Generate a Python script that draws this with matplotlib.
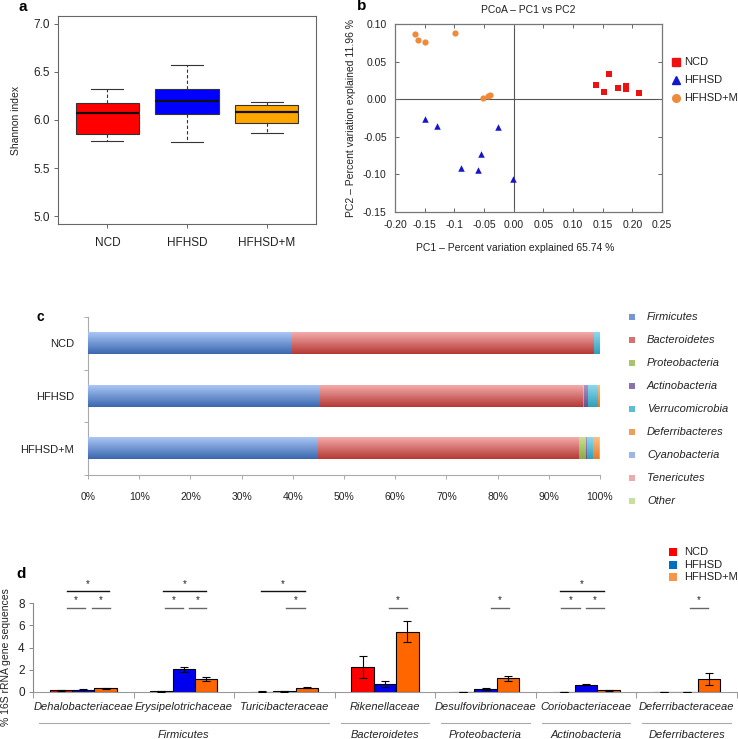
import matplotlib
matplotlib.use('Agg')
import matplotlib.pyplot as plt
import numpy as np
from matplotlib.patches import Rectangle
from matplotlib.lines import Line2D
import matplotlib.colors as mcolors

plt.rcParams['font.family'] = ['Liberation Sans', 'DejaVu Sans']

# ---------------- data ----------------
groups = ['NCD', 'HFHSD', 'HFHSD+M']

# panel a: Shannon index boxplots
shannon_whislo = [5.78, 5.77, 5.86]
shannon_q1 = [5.85, 6.06, 5.97]
shannon_med = [6.07, 6.20, 6.08]
shannon_q3 = [6.18, 6.32, 6.16]
shannon_whishi = [6.32, 6.57, 6.19]
box_colors = ['#ff0000', '#0000ff', '#ffa500']
a_yticks = [5.0, 5.5, 6.0, 6.5, 7.0]

# panel b: PCoA
ncd_pc1 = [0.138, 0.160, 0.153, 0.176, 0.189, 0.190, 0.212]
ncd_pc2 = [0.0187, 0.0333, 0.0093, 0.0151, 0.0173, 0.0142, 0.0080]
hfhsd_pc1 = [-0.150, -0.130, -0.027, -0.055, -0.089, -0.060, -0.001]
hfhsd_pc2 = [-0.0267, -0.0360, -0.0370, -0.0729, -0.0920, -0.0940, -0.1060]
hfhsdm_pc1 = [-0.167, -0.161, -0.150, -0.0997, -0.0513, -0.0439, -0.040]
hfhsdm_pc2 = [0.0862, 0.0787, 0.0764, 0.0876, 0.0013, 0.0044, 0.0058]
b_xticks = [-0.20, -0.15, -0.10, -0.05, 0.0, 0.05, 0.10, 0.15, 0.20, 0.25]
b_xticklabels = ['-0.20', '-0.15', '-0.1', '-0.05', '0.00', '0.05', '0.10', '0.15', '0.20', '0.25']
b_yticks = [-0.15, -0.10, -0.05, 0.0, 0.05, 0.10]
b_yticklabels = ['-0.15', '-0.10', '-0.05', '0.00', '0.05', '0.10']

# panel c: phylum composition (%)
phyla = ['Firmicutes', 'Bacteroidetes', 'Proteobacteria', 'Actinobacteria',
         'Verrucomicrobia', 'Deferribacteres', 'Cyanobacteria', 'Tenericutes', 'Other']
ncd_pct = [39.8, 59.1, 0.0, 0.0, 1.1, 0.0, 0.0, 0.0, 0.0]
hfhsd_pct = [45.3, 51.3, 0.3, 0.7, 2.1, 0.3, 0.0, 0.0, 0.0]
hfhsdm_pct = [44.9, 51.0, 1.4, 0.1, 1.3, 1.1, 0.1, 0.1, 0.0]
phylum_light = ['#abc6f6', '#f4abab', '#c8e290', '#ab95cb', '#8cd9ef', '#fbc089', '#bcd0f3', '#f7c5c5', '#dcefba']
phylum_dark = ['#3a67af', '#b43935', '#89a946', '#694e8c', '#2f9fbb', '#e57b25', '#7b9ed5', '#e19292', '#b1ce84']
c_xticks = [0, 10, 20, 30, 40, 50, 60, 70, 80, 90, 100]

# panel d: family abundances
families = ['Dehalobacteriaceae', 'Erysipelotrichaceae', 'Turicibacteraceae', 'Rikenellaceae',
            'Desulfovibrionaceae', 'Coriobacteriaceae', 'Deferribacteraceae']
fam_ncd = [0.14, 0.05, 0.04, 2.28, 0.02, 0.03, 0.01]
fam_ncd_err = [0.02, 0.02, 0.01, 1.00, 0.0, 0.0, 0.0]
fam_hfhsd = [0.20, 2.05, 0.05, 0.74, 0.28, 0.66, 0.01]
fam_hfhsd_err = [0.03, 0.22, 0.01, 0.28, 0.08, 0.05, 0.0]
fam_hfhsdm = [0.33, 1.20, 0.40, 5.42, 1.25, 0.15, 1.15]
fam_hfhsdm_err = [0.02, 0.18, 0.07, 0.93, 0.22, 0.02, 0.55]
phylum_names_d = ['Firmicutes', 'Bacteroidetes', 'Proteobacteria', 'Actinobacteria', 'Deferribacteres']
phylum_start_d = [0, 3, 4, 5, 6]
phylum_end_d = [3, 4, 5, 6, 7]
d_yticks = [0, 2, 4, 6, 8]
bar_colors_d = ['#ff0000', '#0000ee', '#ff6600']
legend_colors_d = ['#ff0000', '#0070c0', '#f79646']

# significance annotations: (group index, left frac, right frac, level 0=short/1=long)
sig_lines = [(0, 0.335, 0.758, 1), (0, 0.335, 0.517, 0), (0, 0.583, 0.765, 0),
             (1, 0.29, 0.72, 1), (1, 0.31, 0.49, 0), (1, 0.55, 0.72, 0),
             (2, 0.27, 0.70, 1), (2, 0.52, 0.70, 0),
             (3, 0.54, 0.72, 0),
             (4, 0.55, 0.73, 0),
             (5, 0.24, 0.68, 1), (5, 0.25, 0.44, 0), (5, 0.50, 0.68, 0),
             (6, 0.53, 0.71, 0)]
sig_levels = [7.55, 9.04]

# ---------------- figure ----------------
W, H = 738, 739
fig = plt.figure(figsize=(W / 100, H / 100), dpi=100)


def rect(l, t, r, b):
    return [l / W, 1 - b / H, (r - l) / W, (b - t) / H]


def ftext(x, y, s, **kw):
    return fig.text(x / W, 1 - y / H, s, **kw)


# ---------- panel a ----------
axa = fig.add_axes(rect(58, 16, 316, 224))
stats = []
for i in range(3):
    stats.append(dict(med=shannon_med[i], q1=shannon_q1[i], q3=shannon_q3[i],
                      whislo=shannon_whislo[i], whishi=shannon_whishi[i], fliers=[]))
bp = axa.bxp(stats, positions=[1, 2, 3], widths=0.8, patch_artist=True, showfliers=False,
             boxprops=dict(edgecolor='#333333', linewidth=0.8),
             medianprops=dict(color='#111111', linewidth=1.6),
             whiskerprops=dict(color='#333333', linewidth=0.8, linestyle=(0, (3, 2))),
             capprops=dict(color='#333333', linewidth=0.8), capwidths=0.4)
for patch, c in zip(bp['boxes'], box_colors):
    patch.set_facecolor(c)
axa.set_xlim(0.38, 3.62)
axa.set_ylim(4.92, 7.08)
axa.set_yticks(a_yticks)
axa.set_yticklabels(['%.1f' % v for v in a_yticks])
axa.set_xticks([1, 2, 3])
axa.set_xticklabels(groups)
for s in axa.spines.values():
    s.set_color('#666666')
    s.set_linewidth(0.8)
axa.tick_params(axis='both', direction='out', length=3, width=0.7, color='#666666',
                labelsize=8.5, labelcolor='#222222')
axa.tick_params(axis='y', pad=3)
axa.tick_params(axis='x', pad=6)
ftext(16, 120, 'Shannon index', rotation=90, ha='center', va='center', fontsize=7.5, color='#222222')
ftext(23, 7, 'a', fontsize=11, fontweight='bold', ha='center', va='center')

# ---------- panel b ----------
axb = fig.add_axes(rect(395, 24, 662, 212))
axb.axhline(0, color='#555555', lw=0.8, zorder=1)
axb.axvline(0, color='#555555', lw=0.8, zorder=1)
axb.scatter(ncd_pc1, ncd_pc2, marker='s', s=22, color='#ee1111', linewidths=0, zorder=3)
axb.scatter(hfhsd_pc1, hfhsd_pc2, marker='^', s=22, color='#1515cc', linewidths=0, zorder=3)
axb.scatter(hfhsdm_pc1, hfhsdm_pc2, marker='o', s=20, color='#ee8a3a', linewidths=0, zorder=3)
axb.set_xlim(-0.20, 0.25)
axb.set_ylim(-0.15, 0.10)
axb.set_xticks(b_xticks)
axb.set_xticklabels(b_xticklabels)
axb.set_yticks(b_yticks)
axb.set_yticklabels(b_yticklabels)
for s in axb.spines.values():
    s.set_color('#777777')
    s.set_linewidth(0.9)
axb.tick_params(axis='both', direction='in', length=3, width=0.7, color='#666666',
                top=True, right=True, labelsize=7.5, labelcolor='#222222', pad=6)
ftext(528, 10, 'PCoA \u2013 PC1 vs PC2', ha='center', va='center', fontsize=7.5, color='#222222')
ftext(515, 248, 'PC1 \u2013 Percent variation explained 65.74 %', ha='center', va='center',
      fontsize=7.5, color='#222222')
ftext(351, 118, 'PC2 \u2013 Percent variation explained 11.96 %', ha='center', va='center',
      rotation=90, fontsize=7.5, color='#222222')
ftext(362, 6, 'b', fontsize=11, fontweight='bold', ha='center', va='center')
leg_markers = ['s', '^', 'o']
leg_cols = ['#ee1111', '#1515cc', '#ee8a3a']
for k, (m, c, lab) in enumerate(zip(leg_markers, leg_cols, groups)):
    y = 62 + 18 * k
    fig.add_artist(Line2D([676 / W], [1 - y / H], marker=m, markersize=5.5,
                          color=c, linestyle='none', transform=fig.transFigure))
    ftext(684, y, lab, ha='left', va='center', fontsize=8, color='#222222')

# ---------- panel c ----------
axc = fig.add_axes(rect(88, 317, 600, 475))
ypos = [2, 1, 0]
data_c = [ncd_pct, hfhsd_pct, hfhsdm_pct]
bar_h = 0.4
for yi, vals in zip(ypos, data_c):
    left = 0.0
    for j, v in enumerate(vals):
        if v <= 0:
            continue
        bars = axc.barh(yi, v, left=left, height=bar_h, color=phylum_dark[j], linewidth=0, zorder=2)
        p = bars.patches[0]
        x0, y0, w, h = p.get_x(), p.get_y(), p.get_width(), p.get_height()
        cmap = mcolors.LinearSegmentedColormap.from_list('g', [phylum_light[j], phylum_dark[j]])
        grad = cmap(np.linspace(0, 1, 64))[:, None, :3]
        axc.imshow(grad, extent=[x0, x0 + w, y0, y0 + h], aspect='auto', origin='upper',
                   zorder=3, interpolation='bilinear')
        left += v
axc.set_xlim(0, 100)
axc.set_ylim(-0.5, 2.5)
axc.set_xticks(c_xticks)
axc.set_xticklabels(['%d%%' % v for v in c_xticks])
axc.set_yticks([-0.5, 0.5, 1.5, 2.5])
axc.set_yticklabels([])
axc.set_yticks(ypos, minor=True)
axc.set_yticklabels(groups, minor=True)
axc.spines['top'].set_visible(False)
axc.spines['right'].set_visible(False)
for s in ['left', 'bottom']:
    axc.spines[s].set_color('#aaaaaa')
    axc.spines[s].set_linewidth(0.8)
axc.tick_params(axis='both', which='major', direction='out', length=3, width=0.7, color='#aaaaaa',
                labelsize=7.5, labelcolor='#222222')
axc.tick_params(axis='x', pad=9)
axc.tick_params(axis='y', which='minor', length=0, pad=10, labelsize=8, labelcolor='#222222')
ftext(40, 317, 'c', fontsize=10, fontweight='bold', ha='center', va='center')
for k, (name, lc, dc) in enumerate(zip(phyla, phylum_light, phylum_dark)):
    y = 317 + 23 * k
    mid = tuple((np.array(mcolors.to_rgb(lc)) + np.array(mcolors.to_rgb(dc))) / 2)
    fig.add_artist(Rectangle(((632 - 3) / W, 1 - (y + 3) / H), 6 / W, 6 / H,
                             transform=fig.transFigure, facecolor=mid, edgecolor='none'))
    ftext(647, y, name, ha='left', va='center', fontsize=8, style='italic', color='#222222')

# ---------- panel d ----------
axd = fig.add_axes(rect(33, 560, 737, 692))
centers = np.arange(len(families)) + 0.5
bw = 0.223
for off, vals, errs, col in zip([-bw, 0, bw], [fam_ncd, fam_hfhsd, fam_hfhsdm],
                                [fam_ncd_err, fam_hfhsd_err, fam_hfhsdm_err], bar_colors_d):
    axd.bar(centers + off, vals, width=bw, color=col, edgecolor='black', linewidth=0.8, zorder=2)
    axd.errorbar(centers + off, vals, yerr=errs, fmt='none', ecolor='black', elinewidth=0.8,
                 capsize=3, capthick=0.8, zorder=3)
ymax_d = (692 - 560) / ((692 - 603) / 8.0)
axd.set_xlim(0, len(families))
axd.set_ylim(0, ymax_d)
axd.spines['top'].set_visible(False)
axd.spines['right'].set_visible(False)
axd.spines['left'].set_bounds(0, 8)
axd.spines['left'].set_color('#888888')
axd.spines['bottom'].set_color('#999999')
axd.spines['left'].set_linewidth(0.8)
axd.spines['bottom'].set_linewidth(0.8)
axd.set_yticks(d_yticks)
axd.set_yticklabels([str(v) for v in d_yticks])
axd.set_xticks(np.arange(len(families) + 1))
axd.set_xticklabels([])
axd.set_xticks(centers, minor=True)
axd.set_xticklabels(families, minor=True, style='italic')
axd.tick_params(axis='y', direction='out', length=3, width=0.7, color='#888888', labelsize=8.5,
                labelcolor='#222222', pad=3)
axd.tick_params(axis='x', which='major', direction='out', length=4, width=0.7, color='#999999')
axd.tick_params(axis='x', which='minor', length=0, pad=7, labelsize=8, labelcolor='#222222')
ppu = (692 - 603) / 8.0
y_line = -(723 - 692) / ppu
y_lab = -(735 - 692) / ppu
for name, a, b in zip(phylum_names_d, phylum_start_d, phylum_end_d):
    axd.plot([a + 0.06, b - 0.06], [y_line, y_line], color='#aaaaaa', lw=0.8, clip_on=False)
    axd.text((a + b) / 2, y_lab, name, ha='center', va='center', style='italic', fontsize=8,
             color='#222222', clip_on=False)
for gi, f0, f1, lev in sig_lines:
    yv = sig_levels[lev]
    col = '#111111' if lev == 1 else '#666666'
    axd.plot([gi + f0, gi + f1], [yv, yv], color=col, lw=1.0, clip_on=False)
    axd.text(gi + (f0 + f1) / 2, yv + 0.25, '*', ha='center', va='bottom', fontsize=7, color='#222222')
ftext(6, 657, '% 16S rRNA gene sequences', rotation=90, ha='center', va='center', fontsize=7.5,
      color='#222222')
ftext(21, 574, 'd', fontsize=11, fontweight='bold', ha='center', va='center')
for k, (lab, c) in enumerate(zip(groups, legend_colors_d)):
    y = 552 + 12.5 * k
    fig.add_artist(Rectangle(((673 - 4) / W, 1 - (y + 4) / H), 8 / W, 8 / H,
                             transform=fig.transFigure, facecolor=c, edgecolor='none'))
    ftext(684, y, lab, ha='left', va='center', fontsize=8, color='#222222')

fig.savefig('out.png', dpi=100)
